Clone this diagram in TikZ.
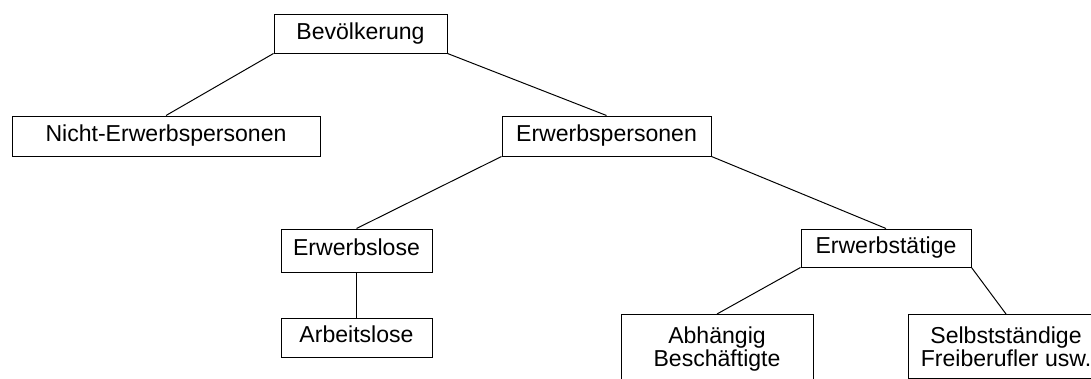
\documentclass[tikz,border=0pt]{standalone}
\usepackage{fontspec}
\setmainfont{Liberation Sans}
\tikzset{
  box/.style={draw, line width=0.7pt, inner sep=0pt,
    font=\fontsize{16.4}{16.6}\selectfont, text height=0.72em, text depth=0pt},
  tallbox/.style={draw, line width=0.7pt, inner xsep=0pt, inner ysep=0.3cm,
    anchor=north, align=center, font=\fontsize{16.4}{16.6}\selectfont},
  link/.style={line width=0.7pt}
}
\begin{document}
\begin{tikzpicture}[x=1cm,y=1cm]
\useasboundingbox (0,0) rectangle (27.275,9.475);
\clip (0,0) rectangle (27.275,9.475);
% top level
\node[box, minimum width=4.325cm, minimum height=0.95cm] (bev) at (9.0125,8.625) {Bevölkerung};
\node[box, minimum width=7.7cm, minimum height=1.0cm] (nicht) at (4.15,6.075) {Nicht-Erwerbspersonen};
\node[box, minimum width=5.225cm, minimum height=1.0cm] (erwp) at (15.1625,6.075) {Erwerbspersonen};
% second level
\node[box, minimum width=3.775cm, minimum height=1.075cm] (erwl) at (8.9125,3.2125) {Erwerbslose};
\node[box, minimum width=3.775cm, minimum height=0.975cm] (arbl) at (8.9125,1.0375) {Arbeitslose};
\node[box, minimum width=4.25cm, minimum height=0.95cm] (erwt) at (22.15,3.275) {Erwerbstätige};
% bottom row, cut off by the frame
\node[tallbox, minimum width=4.8cm] (abh) at (17.925,1.625) {Abhängig\\Beschäftigte};
\node[tallbox, minimum width=4.9cm] (selb) at (25.15,1.625) {Selbstständige\\Freiberufler usw.};
% connectors
\draw[link] (bev.south west) -- (nicht.north);
\draw[link] (bev.south east) -- (erwp.north);
\draw[link] (erwp.south west) -- (erwl.north);
\draw[link] (erwp.south east) -- (erwt.north);
\draw[link] (erwl.south) -- (arbl.north);
\draw[link] (erwt.south west) -- (abh.north);
\draw[link] (erwt.south east) -- (selb.north);
\end{tikzpicture}
\end{document}
